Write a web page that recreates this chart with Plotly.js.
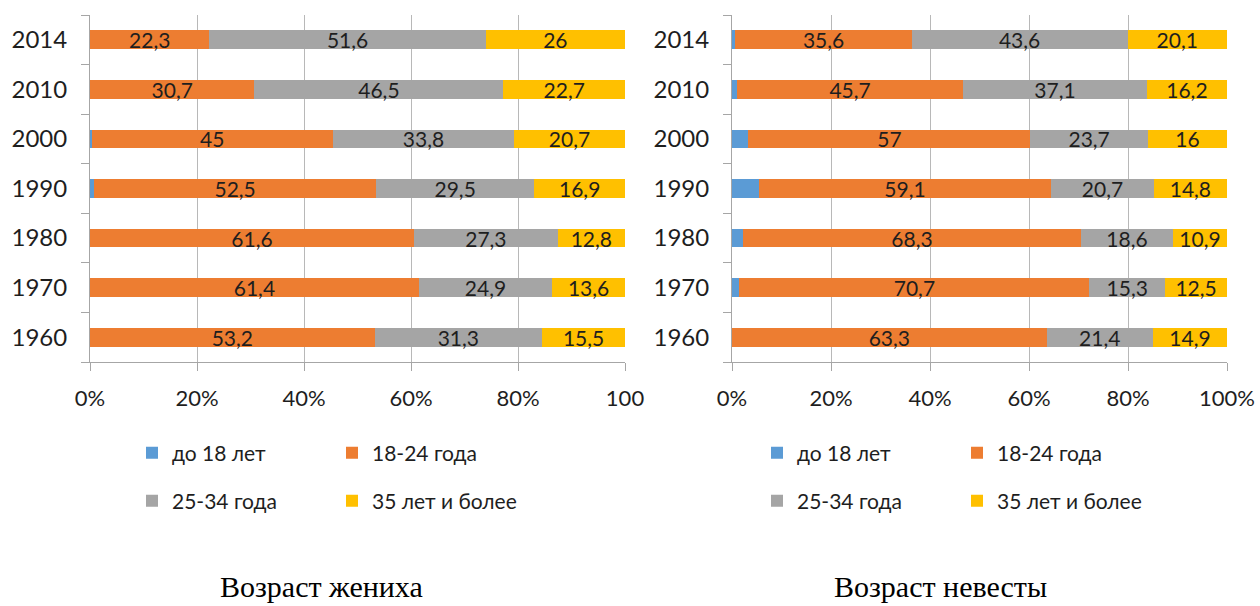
<!DOCTYPE html>
<html><head><meta charset="utf-8">
<script src="https://cdn.plot.ly/plotly-3.0.1.min.js"></script>
<style>html,body{margin:0;padding:0;background:#fff}#chart{width:1260px;height:606px}</style>
</head><body><div id="chart"></div>
<script>
// ---- data ----
const years = ['1960','1970','1980','1990','2000','2010','2014'];
const seriesNames = ['до 18 лет','18-24 года','25-34 года','35 лет и более'];
const groomUnder18 = [0, 0, 0, 0.8, 0.3, 0, 0];
const groom18to24 = [53.2, 61.4, 61.6, 52.5, 45, 30.7, 22.3];
const groom25to34 = [31.3, 24.9, 27.3, 29.5, 33.8, 46.5, 51.6];
const groom35plus = [15.5, 13.6, 12.8, 16.9, 20.7, 22.7, 26];
const brideUnder18 = [0, 1.5, 2.2, 5.4, 3.3, 1.0, 0.7];
const bride18to24 = [63.3, 70.7, 68.3, 59.1, 57, 45.7, 35.6];
const bride25to34 = [21.4, 15.3, 18.6, 20.7, 23.7, 37.1, 43.6];
const bride35plus = [14.9, 12.5, 10.9, 14.8, 16, 16.2, 20.1];
const xTickVals = [0, 20, 40, 60, 80, 100];
const xTickTextLeft = ['0%', '20%', '40%', '60%', '80%', '100'];
const xTickTextRight = ['0%', '20%', '40%', '60%', '80%', '100%'];
const chartTitles = ['Возраст жениха', 'Возраст невесты'];

// ---- styles ----
const colors = ['#5B9BD5', '#ED7D31', '#A5A5A5', '#FFC000'];
const FONT = 'Lato, "Noto Sans", sans-serif';
const TXT = '#1e1e1e';
const W = 1260, H = 606;
const px = v => v / W;
const py = v => 1 - v / H;

const fmt = arr => arr.map(v => String(v).replace('.', ','));

function makeTraces(sets, xa, ya, legendRow1, legendRow2) {
  return sets.map((vals, i) => ({
    type: 'bar', orientation: 'h',
    x: vals, y: years,
    xaxis: xa, yaxis: ya,
    name: seriesNames[i],
    legend: i < 2 ? legendRow1 : legendRow2,
    marker: {color: colors[i], line: {width: 0}},
    text: i === 0 ? null : fmt(vals),
    textposition: i === 0 ? 'none' : 'inside',
    insidetextanchor: 'middle',
    textangle: 0,
    constraintext: 'none',
    textfont: {family: FONT, size: 21, color: TXT},
    hoverinfo: 'x+y+name'
  }));
}

const traces = [
  ...makeTraces([groomUnder18, groom18to24, groom25to34, groom35plus], 'x', 'y', 'legend', 'legend2'),
  ...makeTraces([brideUnder18, bride18to24, bride25to34, bride35plus], 'x2', 'y2', 'legend3', 'legend4')
];

const gridC = '#b8b8b8', lineC = '#a6a6a6';
function xAxis(domain, ticktext, anchor) {
  return {
    domain: domain, range: [0, 100], anchor: anchor,
    tickmode: 'array', tickvals: xTickVals, ticktext: ticktext,
    showgrid: true, gridcolor: gridC, gridwidth: 1,
    showline: true, linecolor: lineC, linewidth: 1,
    ticks: 'outside', ticklen: 8, tickcolor: lineC,
    zeroline: false, tickfont: {family: FONT, size: 22, color: TXT},
    ticklabelstandoff: 9, fixedrange: true
  };
}
function yAxis(anchor) {
  return {
    domain: [py(362), py(15)], anchor: anchor,
    type: 'category', categoryorder: 'array', categoryarray: years,
    showline: true, linecolor: lineC, linewidth: 1,
    ticks: 'outside', tickson: 'boundaries', ticklen: 8, tickcolor: lineC,
    showgrid: false, zeroline: false,
    tickfont: {family: FONT, size: 24, color: TXT},
    ticklabelstandoff: 17, fixedrange: true
  };
}
function legendAt(x, y) {
  return {
    x: px(x), y: py(y), xanchor: 'left', yanchor: 'middle',
    orientation: 'h', entrywidth: 155, entrywidthmode: 'pixels',
    font: {family: FONT, size: 21, color: TXT},
    bgcolor: 'rgba(0,0,0,0)', traceorder: 'normal', itemclick: false, itemdoubleclick: false
  };
}

const layout = {
  width: W, height: H,
  paper_bgcolor: '#fff', plot_bgcolor: '#fff',
  margin: {l: 0, r: 0, t: 0, b: 0},
  barmode: 'stack', barnorm: 'percent', bargap: 0.62,
  separators: ', ',
  uniformtext: {mode: 'show', minsize: 21},
  font: {family: FONT, color: TXT},
  showlegend: true,
  xaxis: xAxis([px(90), px(625)], xTickTextLeft, 'y'),
  yaxis: yAxis('x'),
  xaxis2: xAxis([px(732), px(1227)], xTickTextRight, 'y2'),
  yaxis2: yAxis('x2'),
  legend: legendAt(132, 453),
  legend2: legendAt(132, 501),
  legend3: legendAt(757, 453),
  legend4: legendAt(757, 501),
  annotations: [
    {text: chartTitles[0], x: px(321), y: py(605), xref: 'paper', yref: 'paper',
     xanchor: 'center', yanchor: 'bottom', showarrow: false,
     font: {family: '"Liberation Serif", "DejaVu Serif", serif', size: 30, color: '#000'}},
    {text: chartTitles[1], x: px(940), y: py(605), xref: 'paper', yref: 'paper',
     xanchor: 'center', yanchor: 'bottom', showarrow: false,
     font: {family: '"Liberation Serif", "DejaVu Serif", serif', size: 30, color: '#000'}}
  ]
};

Plotly.newPlot('chart', traces, layout, {displayModeBar: false, staticPlot: true});
</script>
</body></html>
